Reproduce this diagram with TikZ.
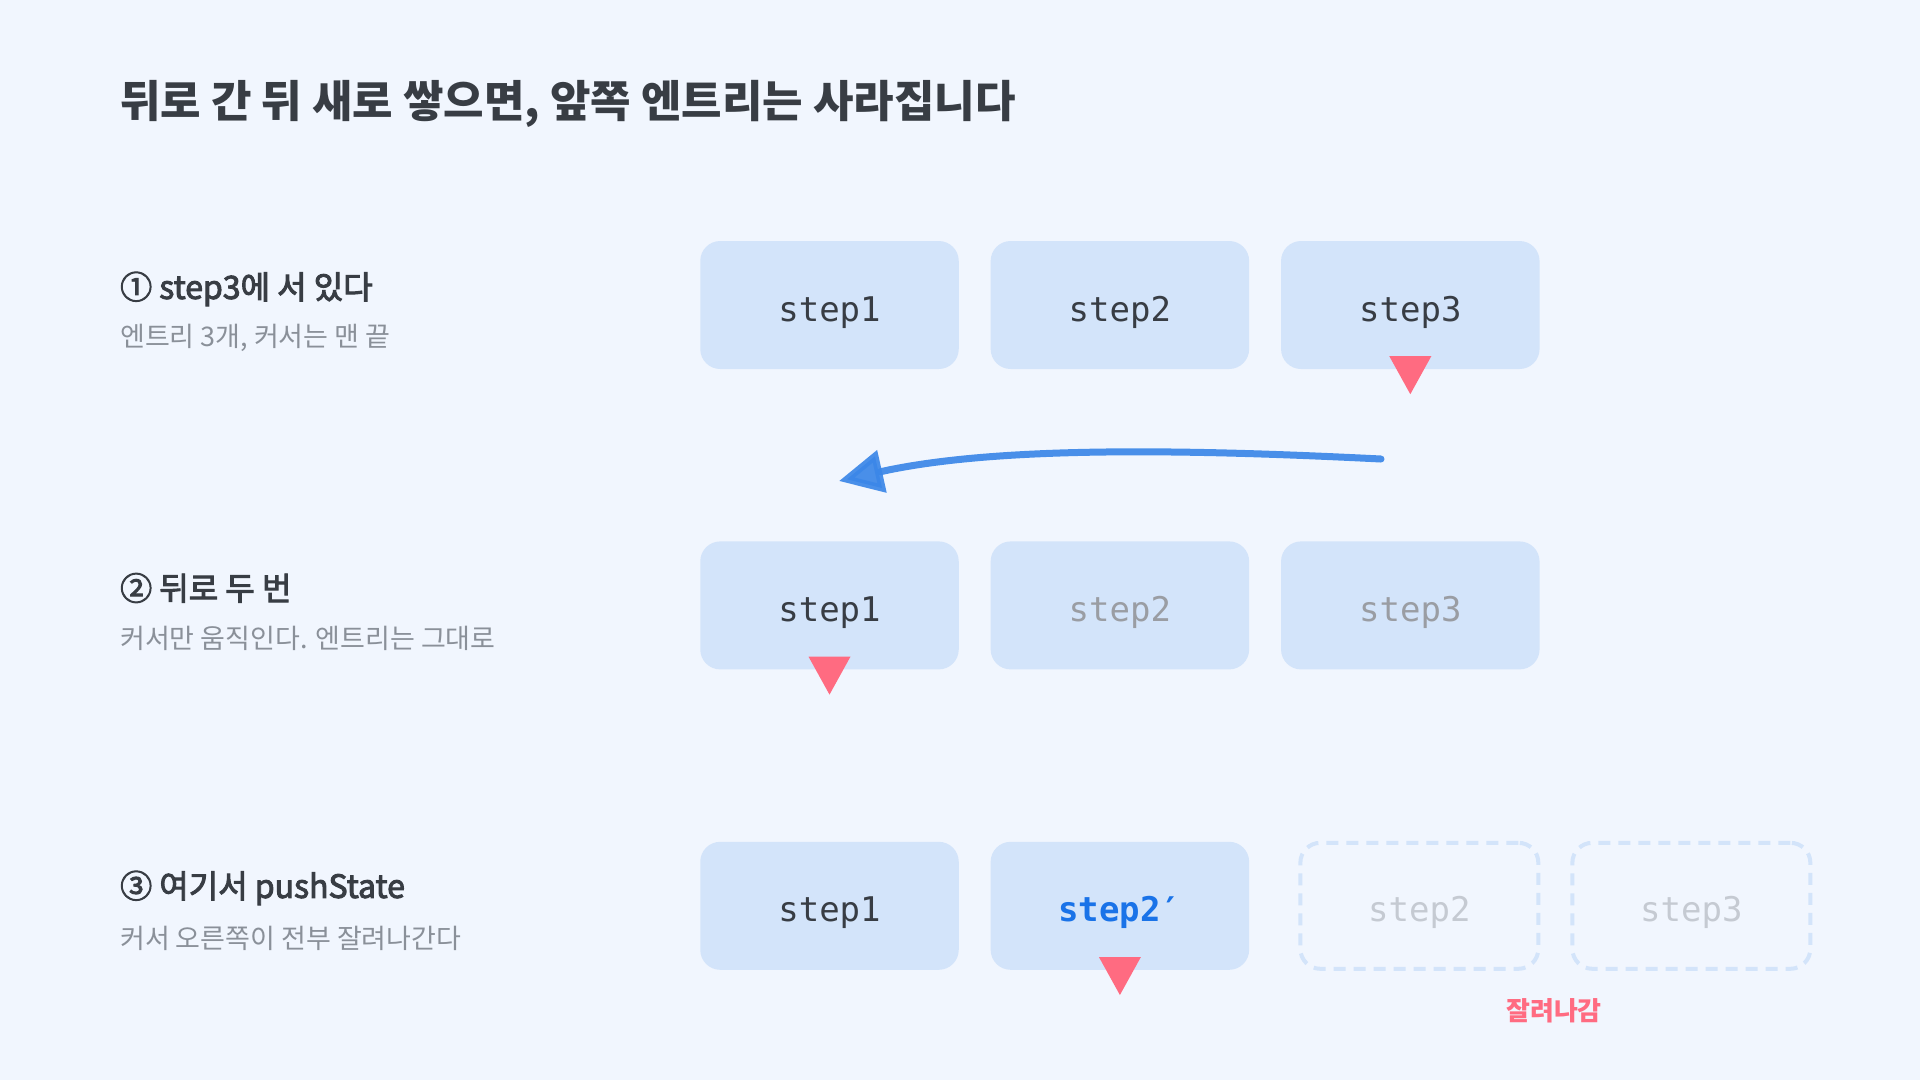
\documentclass[tikz,border=0pt]{standalone}
\usepackage{fontspec}
\newfontfamily\krfont{Noto Sans CJK KR}
\newfontfamily\krsemi[FakeBold=3]{Noto Sans CJK KR}
\newfontfamily\monofont{DejaVu Sans Mono}
\usetikzlibrary{arrows.meta, positioning, calc}
\definecolor{bgblue}{HTML}{F1F6FE}
\definecolor{boxblue}{HTML}{D3E4FA}
\definecolor{ink}{HTML}{383D44}
\definecolor{subgray}{HTML}{8A9099}
\definecolor{fadegray}{HTML}{9A9DA3}
\definecolor{ghostgray}{HTML}{C5CAD2}
\definecolor{cursorred}{HTML}{FF6B81}
\definecolor{arrowblue}{HTML}{3B87E8}
\definecolor{newblue}{HTML}{1A73E8}

\begin{document}
\begin{tikzpicture}[
        x=1pt, y=-1pt,
        titletext/.style={anchor=west, inner sep=0, text=ink, font=\krfont\bfseries\fontsize{44}{52}\selectfont},
        heading/.style={anchor=west, inner sep=0, text=ink, font=\krsemi\fontsize{32}{38}\selectfont},
        subline/.style={anchor=west, inner sep=0, text=subgray, font=\krfont\fontsize{27}{33}\selectfont},
        entry/.style={rectangle, rounded corners=20pt, fill=boxblue, minimum width=258.5pt, minimum height=128pt, inner sep=0, text height=32pt, text depth=0pt, text=ink, font=\monofont\fontsize{34}{40}\selectfont},
        faded/.style={entry, text=fadegray},
        gone/.style={rectangle, rounded corners=20pt, draw=boxblue, line width=4pt, dash pattern=on 12pt off 8pt, minimum width=238pt, minimum height=126pt, inner sep=0, text height=32pt, text depth=0pt, text=ghostgray, font=\monofont\fontsize{34}{40}\selectfont},
        cursor/.style={fill=cursorred},
        backarrow/.style={draw=arrowblue, line width=7pt, line cap=round, opacity=0.92, -{Triangle[length=44pt, width=42pt]}},
        cutlabel/.style={inner sep=0, text=cursorred, font=\krfont\bfseries\fontsize{26}{32}\selectfont}
    ]

        % Canvas
        \fill[bgblue] (0,0) rectangle (1920,1080);
        \useasboundingbox (0,0) rectangle (1920,1080);

        % Title
        \node (title) [titletext] at (120,104) {뒤로 간 뒤 새로 쌓으면, 앞쪽 엔트리는 사라집니다};

        % Row 1: standing on step3
        \node (h1) [heading] at (120,289) {① step3에 서 있다};
        \node (d1) [subline] at (120,338) {엔트리 3개, 커서는 맨 끝};
        \node (r1a) [entry] at (829.5,305) {step1};
        \node (r1b) [entry, right=31.5pt of r1a] {step2};
        \node (r1c) [entry, right=31.5pt of r1b] {step3};

        % Row 2: back twice
        \node (h2) [heading] at (120,588) {② 뒤로 두 번};
        \node (d2) [subline] at (120,638) {커서만 움직인다. 엔트리는 그대로};
        \node (r2a) [entry, below=172pt of r1a] {step1};
        \node (r2b) [faded, right=31.5pt of r2a] {step2};
        \node (r2c) [faded, right=31.5pt of r2b] {step3};

        % Row 3: pushState here
        \node (h3) [heading] at (120,888) {③ 여기서 pushState};
        \node (d3) [subline] at (120,938) {커서 오른쪽이 전부 잘려나간다};
        \node (r3a) [entry, below=172pt of r2a] {step1};
        \node (r3b) [entry, right=31.5pt of r3a, text=newblue, font=\monofont\bfseries\fontsize{34}{40}\selectfont] {step2′};
        \node (r3c) [gone, right=49pt of r3b] {step2};
        \node (r3d) [gone, right=30pt of r3c] {step3};
        \node (cut) [cutlabel] at (1554,1011) {잘려나감};

        % Cursors
        \foreach \b in {r1c, r2a, r3b}
            \fill[cursor] ($(\b.south)+(-21,-13)$) -- ++(42,0) -- ++(-21,38) -- cycle;

        % Going back
        \coordinate (backfrom) at (1381,459);
        \coordinate (backto) at (839,481);
        \draw [backarrow] (backfrom) .. controls (1200,450) and (1000,445) .. (backto);

    \end{tikzpicture}
\end{document}
